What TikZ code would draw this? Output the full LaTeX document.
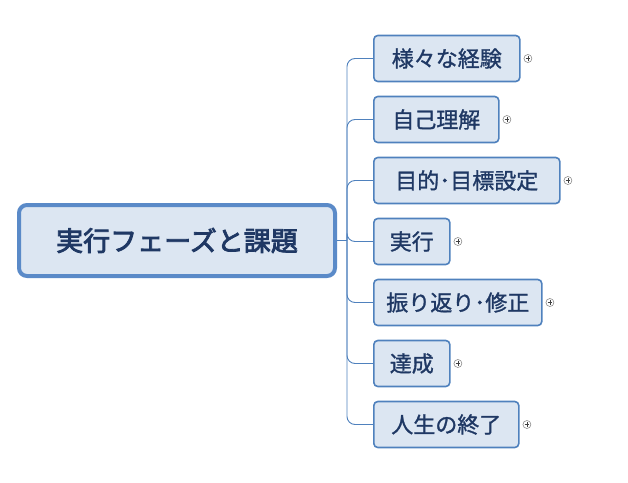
\documentclass[tikz,border=0pt]{standalone}
\usepackage{fontspec}
\setmainfont{Noto Sans CJK JP}
\newfontfamily\rootfont[FakeBold=3]{Noto Sans CJK JP}
\newfontfamily\leaffont[FakeBold=1.2]{Noto Sans CJK JP}
\usetikzlibrary{positioning}

\definecolor{boxfill}{HTML}{DCE6F2}
\definecolor{boxline}{HTML}{4F81BD}
\definecolor{rootline}{HTML}{5A8AC8}
\definecolor{inkblue}{HTML}{1F3864}

\tikzset{
	topic/.style={draw=rootline, line width=4pt, fill=boxfill, rounded corners=8pt,
		minimum width=316pt, minimum height=71pt, text=inkblue,
		font=\rootfont\fontsize{27}{32}\selectfont},
	subtopic/.style={draw=boxline, line width=1.6pt, fill=boxfill, rounded corners=4pt,
		anchor=west, minimum height=46pt, inner xsep=10pt, text=inkblue,
		font=\leaffont\fontsize{22}{26}\selectfont},
	expander/.style={circle, draw=black!45, fill=white, line width=0.6pt,
		minimum size=8pt, inner sep=0pt,
		path picture={
			\draw[black!75, line width=0.6pt]
				([xshift=-2.4pt]path picture bounding box.center) -- ([xshift=2.4pt]path picture bounding box.center)
				([yshift=-2.4pt]path picture bounding box.center) -- ([yshift=2.4pt]path picture bounding box.center);
		}},
	branch/.style={draw=boxline, line width=0.9pt, rounded corners=8pt}
}

\begin{document}
\begin{tikzpicture}[x=1pt, y=-1pt]
	\useasboundingbox (0,0) rectangle (628,482);
	\node[topic] (root) at (177,240.5) {実行フェーズと課題};
	\coordinate (hub) at (347,240.5);
	\draw[branch] (root.east) -- (hub);
	% box widths follow the original layout
	\foreach \t/\w [count=\i] in {様々な経験/146,自己理解/125,目的･目標設定/186,実行/76,振り返り･修正/168,達成/76,人生の終了/145} {
		\node[subtopic, minimum width=\w pt] (c\i) at (373,{58.5+61*(\i-1)}) {\t};
		\node[expander, right=3pt of c\i] (p\i) {};
		\draw[branch] (hub) |- (c\i.west);
	}
\end{tikzpicture}
\end{document}
